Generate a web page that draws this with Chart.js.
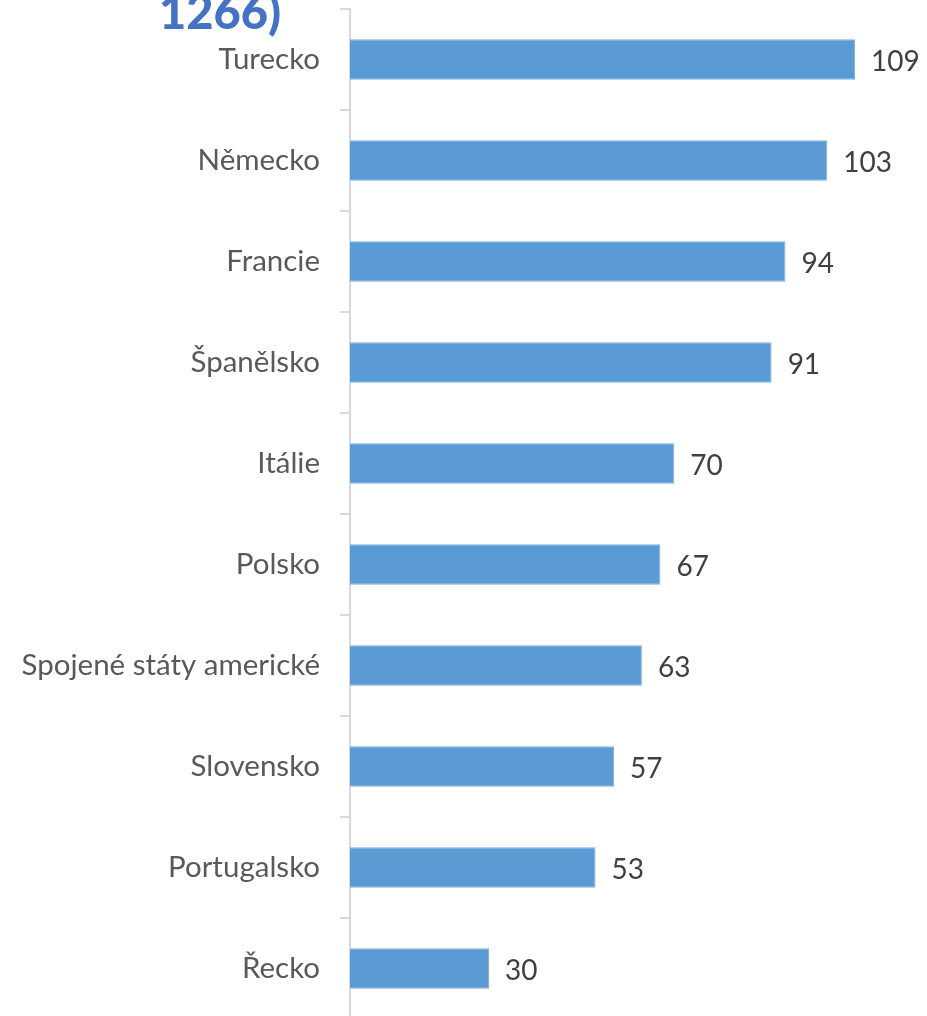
<!DOCTYPE html>
<html>
<head>
<meta charset="utf-8">
<script src="https://cdn.jsdelivr.net/npm/chart.js@4"></script>
<style>
  html, body { margin: 0; padding: 0; background: #fff; overflow: hidden; }
  #wrap { position: relative; width: 927px; height: 1030px; }
</style>
</head>
<body>
<div id="wrap"><canvas id="chart"></canvas></div>
<script>
const countries = ["Turecko", "Německo", "Francie", "Španělsko", "Itálie", "Polsko",
  "Spojené státy americké", "Slovensko", "Portugalsko", "Řecko"];
const counts = [109, 103, 94, 91, 70, 67, 63, 57, 53, 30];
const titleTail = "1266)";

const COLORS = { bar: "#5B9BD5", label: "#595959", value: "#404040", axis: "#D9D9D9", title: "#4472C4" };
const FONT = "Lato, 'Open Sans', sans-serif";

const valueLabels = {
  id: "valueLabels",
  afterDatasetsDraw(chart) {
    const { ctx } = chart;
    const meta = chart.getDatasetMeta(0);
    ctx.save();
    ctx.font = "28px " + FONT;
    ctx.fillStyle = COLORS.value;
    ctx.textAlign = "left";
    ctx.textBaseline = "middle";
    meta.data.forEach((bar, i) => ctx.fillText(String(counts[i]), bar.x + 16, bar.y + 2));
    ctx.restore();
  }
};

const clippedTitle = {
  id: "clippedTitle",
  afterDraw(chart) {
    const { ctx } = chart;
    ctx.save();
    ctx.font = "900 47px " + FONT;
    ctx.fillStyle = COLORS.title;
    ctx.textAlign = "right";
    ctx.textBaseline = "alphabetic";
    ctx.fillText(titleTail, 281, 29);
    ctx.restore();
  }
};

new Chart(document.getElementById("chart"), {
  type: "bar",
  data: { labels: countries, datasets: [{ data: counts, backgroundColor: COLORS.bar,
    borderColor: "#7FB2E0", borderWidth: 1, categoryPercentage: 1, barPercentage: 0.4 }] },
  options: {
    indexAxis: "y", responsive: true, maintainAspectRatio: false, animation: false,
    layout: { padding: { top: 9, bottom: 11, right: 21, left: 0 } },
    plugins: { legend: { display: false }, tooltip: { enabled: false } },
    scales: {
      x: { display: false, min: 0, max: 120 },
      y: {
        afterFit(scale) { scale.width = 350; scale.paddingTop = 0; scale.paddingBottom = 0; },
        border: { color: COLORS.axis, width: 2 },
        grid: { offset: true, drawOnChartArea: false, tickLength: 10, color: COLORS.axis, lineWidth: 2 },
        ticks: { padding: 20, color: COLORS.label, font: { family: FONT, size: 29.5 } }
      }
    }
  },
  plugins: [valueLabels, clippedTitle]
});
</script>
</body>
</html>
